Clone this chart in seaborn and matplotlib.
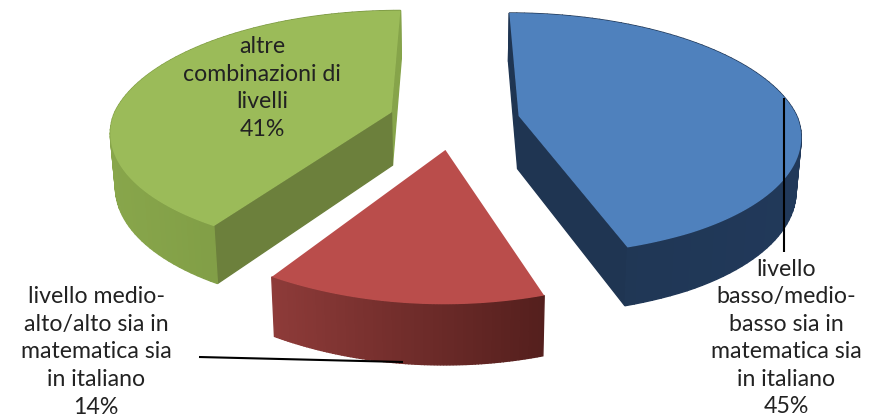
import numpy as np
import matplotlib
matplotlib.use("Agg")
import matplotlib.pyplot as plt
import seaborn as sns

# data
categories = ["livello\nbasso/medio-\nbasso sia in\nmatematica sia\nin italiano",
              "livello medio-\nalto/alto sia in\nmatematica sia\nin italiano",
              "altre\ncombinazioni di\nlivelli"]
values = [45, 14, 41]

top_colors = ["#4F81BD", "#BA4D4B", "#9BBB59"]
front_cut_colors = ["#1F3552", None, "#6C803C"]
back_cut_colors = ["#1F3552", None, "#86A44A"]
rim_colors = [["#1F3552", "#21395A"], ["#8E3B39", "#541F1D"], ["#88A64B", "#75913E"]]
label_xy = [(786, 338), (96, 352), (262, 88)]
leaders = [((784, 784), (98, 252)), ((199, 403), (357, 362))]

# view of the pie plane (perspective)
CX, R, VPY, D, G, EXPL = 454.0, 280.0, -600.0, 720.4, 0.169, 0.235
DEPTH, DEPTH_P, SHRINK, FRONT, NARROW = 53.0, 30.0, 0.985, 0.03, 0.12

sns.set_theme(style="white")
plt.rcParams["font.family"] = ["Lato", "DejaVu Sans"]

fig = plt.figure(figsize=(8.72, 4.17), dpi=100)
ax = fig.add_axes([0, 0, 1, 1])
wedges, _ = ax.pie(values, startangle=90, counterclock=False)
angles = [(w.theta1, w.theta2) for w in wedges]
for w in wedges:
    w.remove()
ax.set_aspect("auto")
ax.set_xlim(0, 872)
ax.set_ylim(417, 0)
ax.axis("off")


def project(u, v, bottom=False):
    w = 1 + G * v
    x = R * u / w * (1 - NARROW * np.clip(-v - 0.8, 0, 1))
    y = VPY + D / w
    if bottom:
        return CX + SHRINK * x, y + DEPTH + DEPTH_P * (1 / w - 1)
    return CX + x, y


for i in [2, 0, 1]:
    t1, t2 = angles[i]
    mid = np.radians((t1 + t2) / 2)
    ou, ov = EXPL * np.cos(mid), EXPL * np.sin(mid)
    th = np.radians(np.linspace(t1, t2, 90))
    r = 1 - FRONT * np.clip(-np.sin(th), 0, 1)
    u = np.concatenate([[ou], ou + r * np.cos(th), [ou]])
    v = np.concatenate([[ov], ov + r * np.sin(th), [ov]])
    tx, ty = project(u, v)
    bx, by = project(u, v, bottom=True)
    pal = sns.blend_palette(rim_colors[i], 256)
    xmin, xmax = tx.min(), tx.max()
    first_is_front = ty[1] > ty[-2]
    quads = []
    for k in range(len(u) - 1):
        if k == 0:
            col = front_cut_colors[i] if first_is_front else back_cut_colors[i]
        elif k == len(u) - 2:
            col = back_cut_colors[i] if first_is_front else front_cut_colors[i]
        else:
            f = ((tx[k] + tx[k + 1]) / 2 - xmin) / (xmax - xmin)
            col = pal[int(np.clip(f, 0, 1) * 255)]
        if col is not None:
            quads.append(((ty[k] + ty[k + 1]) / 2, k, col))
    for _, k, col in sorted(quads, key=lambda q: q[0]):
        ax.fill([tx[k], tx[k + 1], bx[k + 1], bx[k]], [ty[k], ty[k + 1], by[k + 1], by[k]],
                color=col, lw=1.0, zorder=2)
    ax.fill(tx, ty, color=top_colors[i], lw=0, zorder=3)

for (xs, ys) in leaders:
    ax.plot(xs, ys, color="black", lw=1.5, zorder=4, solid_capstyle="butt")

for cat, val, (x, y) in zip(categories, values, label_xy):
    ax.text(x, y, f"{cat}\n{val}%", ha="center", va="center", fontsize=16.7,
            color="#222222", linespacing=1.384, zorder=5)

fig.savefig("out.png", dpi=100, facecolor="white")
